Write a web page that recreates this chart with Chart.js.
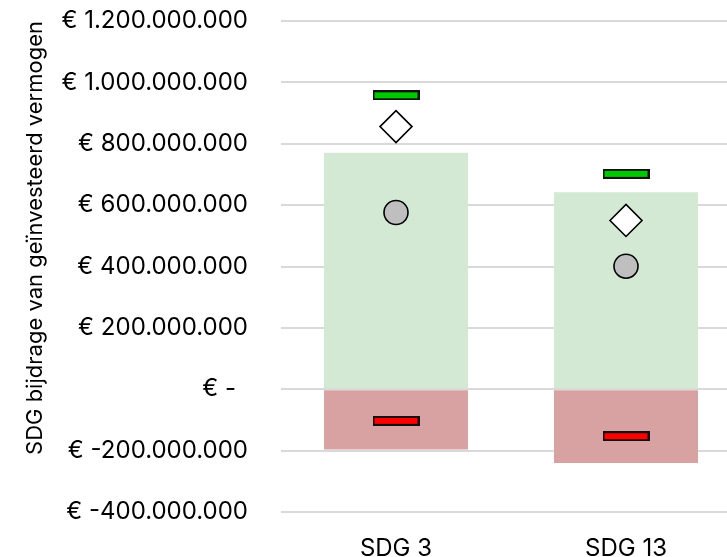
<!DOCTYPE html>
<html>
<head>
<meta charset="utf-8">
<script src="https://cdn.jsdelivr.net/npm/chart.js@4/dist/chart.umd.min.js"></script>
<style>
  html, body { margin: 0; padding: 0; background: #fff; overflow: hidden; }
  #wrap { width: 727px; height: 557px; overflow: hidden; }
  #box { position: relative; width: 745px; height: 557px; }
</style>
</head>
<body>
<div id="wrap"><div id="box"><canvas id="c"></canvas></div></div>
<script>
// Categories and series (euro amounts)
const categories = ['SDG 3', 'SDG 13'];
const positiveContribution = [771e6, 642e6];
const negativeContribution = [-196e6, -240e6];
const maxPositive = [958e6, 702e6];
const diamondValue = [856e6, 550e6];
const circleValue = [576e6, 401e6];
const maxNegative = [-103e6, -153e6];

// Axis range
const yMin = -400e6;
const yMax = 1200e6;
const yStep = 200e6;

const FONT = 'Inter';

function euro(v) {
  if (v === 0) return '€ -\u2002';
  const sign = v < 0 ? '-' : '';
  const s = Math.round(Math.abs(v)).toString().replace(/\B(?=(\d{3})+(?!\d))/g, '.');
  return '€ ' + sign + s;
}

// Small bar-shaped marker with a dark outline
function dashMarker(fill) {
  const c = document.createElement('canvas');
  c.width = 47; c.height = 10;
  const g = c.getContext('2d');
  g.fillStyle = fill;
  g.fillRect(0, 0, 47, 10);
  g.strokeStyle = '#111';
  g.lineWidth = 2;
  g.strokeRect(1, 1, 45, 8);
  return c;
}

const markerBase = { type: 'line', showLine: false, order: 1 };

new Chart(document.getElementById('c'), {
  data: {
    labels: categories,
    datasets: [
      Object.assign({}, markerBase, {
        label: 'max positief',
        data: maxPositive,
        pointStyle: dashMarker('#00C800'),
        pointRadius: 6, pointHoverRadius: 6
      }),
      Object.assign({}, markerBase, {
        label: 'ruit',
        data: diamondValue,
        pointStyle: 'rectRot',
        pointRadius: 16, pointHoverRadius: 16,
        pointBackgroundColor: '#ffffff',
        pointBorderColor: '#000000',
        pointBorderWidth: 1.6
      }),
      Object.assign({}, markerBase, {
        label: 'cirkel',
        data: circleValue,
        pointStyle: 'circle',
        pointRadius: 12, pointHoverRadius: 12,
        pointBackgroundColor: '#BFBFBF',
        pointBorderColor: '#000000',
        pointBorderWidth: 1.6
      }),
      Object.assign({}, markerBase, {
        label: 'max negatief',
        data: maxNegative,
        pointStyle: dashMarker('#FF0000'),
        pointRadius: 6, pointHoverRadius: 6
      }),
      {
        type: 'bar',
        label: 'positief',
        data: positiveContribution,
        backgroundColor: '#D3E9D3',
        borderWidth: 0,
        grouped: false,
        barPercentage: 0.626,
        categoryPercentage: 1,
        order: 2
      },
      {
        type: 'bar',
        label: 'negatief',
        data: negativeContribution,
        backgroundColor: '#D8A2A2',
        borderWidth: 0,
        grouped: false,
        barPercentage: 0.626,
        categoryPercentage: 1,
        order: 2
      }
    ]
  },
  options: {
    responsive: true,
    maintainAspectRatio: false,
    animation: false,
    events: [],
    layout: { autoPadding: false, padding: { left: 18, top: 21, right: 4, bottom: 0 } },
    plugins: { legend: { display: false }, tooltip: { enabled: false } },
    scales: {
      x: {
        offset: true,
        border: { display: false },
        grid: { display: false, drawTicks: false },
        ticks: { color: '#000', padding: 22, font: { family: FONT, size: 24 } },
        afterFit: (s) => { s.height = 45; s.paddingLeft = 0; s.paddingRight = 0; }
      },
      y: {
        min: yMin,
        max: yMax,
        border: { display: false },
        grid: { color: '#D9D9D9', lineWidth: 2, drawTicks: false },
        ticks: {
          stepSize: yStep,
          padding: 33,
          color: '#000',
          font: { family: FONT, size: 24 },
          callback: (v) => euro(v)
        },
        title: {
          display: true,
          text: 'SDG bijdrage van geïnvesteerd vermogen',
          align: 'end',
          color: '#000',
          padding: { top: 4, bottom: 0 },
          font: { family: FONT, size: 22 }
        },
        afterFit: (s) => { s.width = 263; s.paddingTop = 0; s.paddingBottom = 0; }
      }
    }
  }
});
</script>
</body>
</html>
